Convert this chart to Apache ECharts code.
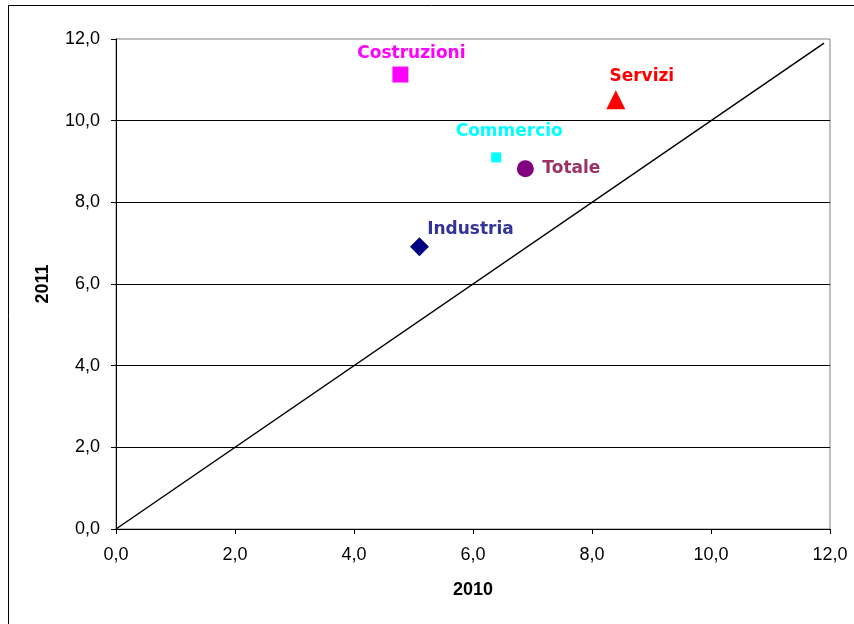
<!DOCTYPE html>
<html>
<head>
<meta charset="utf-8">
<script src="https://cdn.jsdelivr.net/npm/echarts@6/dist/echarts.min.js"></script>
<style>
  html, body { margin: 0; padding: 0; background: #fff; }
  #chart { width: 854px; height: 624px; }
</style>
</head>
<body>
<div id="chart"></div>
<script>
// Sector values: 2010 on the horizontal axis, 2011 on the vertical axis
const sectors = ['Costruzioni', 'Servizi', 'Commercio', 'Totale', 'Industria'];
const values2010 = [4.78, 8.40, 6.39, 6.88, 5.10];
const values2011 = [11.13, 10.51, 9.10, 8.82, 6.91];

// Reference diagonal (2011 = 2010)
const diagX = [0, 11.9];
const diagY = [0, 11.9];

// Axis ticks
const axisMin = 0, axisMax = 12, axisStep = 2;

// Marker appearance per sector
const sectorStyle = {
  'Costruzioni': { symbol: 'rect',     size: 16, color: '#FF00FF', text: '#FF00FF', offset: [11, -21] },
  'Servizi':     { symbol: 'triangle', size: 19, color: '#FF0000', text: '#FF0000', offset: [26, -23] },
  'Commercio':   { symbol: 'rect',     size: 10, color: '#00FFFF', text: '#00FFFF', offset: [13, -26] },
  'Totale':      { symbol: 'circle',   size: 17, color: '#800080', text: '#993366', offset: [46, 0] },
  'Industria':   { symbol: 'diamond',  size: 19, color: '#000080', text: '#333399', offset: [51, -17] }
};

const fmt = v => Number(v).toFixed(1).replace('.', ',');

const sectorSeries = sectors.map((name, i) => {
  const s = sectorStyle[name];
  return {
    type: 'scatter',
    name: name,
    symbol: s.symbol,
    symbolSize: s.size,
    itemStyle: { color: s.color, opacity: 1 },
    data: [[values2010[i], values2011[i]]],
    label: {
      show: true,
      formatter: name,
      position: 'inside',
      align: 'center',
      verticalAlign: 'middle',
      offset: s.offset,
      color: s.text,
      fontFamily: 'DejaVu Sans',
      fontWeight: 'bold',
      fontSize: 17
    },
    z: 5
  };
});

const chart = echarts.init(document.getElementById('chart'), null, { renderer: 'canvas' });
chart.setOption({
  animation: false,
  backgroundColor: '#fff',
  graphic: [{
    type: 'rect',
    shape: { x: 8.5, y: 5.5, width: 900, height: 700 },
    style: { fill: 'none', stroke: '#000', lineWidth: 1 },
    silent: true,
    z: 0
  }],
  grid: {
    left: 116, right: 24, top: 39, bottom: 95,
    show: true,
    borderColor: '#808080',
    borderWidth: 1,
    backgroundColor: '#fff'
  },
  xAxis: {
    type: 'value',
    min: axisMin, max: axisMax, interval: axisStep,
    name: '2010',
    nameLocation: 'middle',
    nameGap: 52,
    nameTextStyle: { fontFamily: 'Liberation Sans', fontWeight: 'bold', fontSize: 18, color: '#000' },
    axisLine: { show: true, onZero: false, lineStyle: { color: '#000', width: 1 } },
    axisTick: { show: true, inside: false, length: 5, lineStyle: { color: '#000' } },
    axisLabel: { margin: 17, formatter: fmt, fontFamily: 'Liberation Sans', fontSize: 18, color: '#000' },
    splitLine: { show: false }
  },
  yAxis: {
    type: 'value',
    min: axisMin, max: axisMax, interval: axisStep,
    name: '2011',
    nameLocation: 'middle',
    nameGap: 64,
    nameRotate: 90,
    nameTextStyle: { fontFamily: 'Liberation Sans', fontWeight: 'bold', fontSize: 18, color: '#000' },
    axisLine: { show: true, onZero: false, lineStyle: { color: '#000', width: 1 } },
    axisTick: { show: true, inside: false, length: 5, lineStyle: { color: '#000' } },
    axisLabel: { margin: 16, formatter: fmt, fontFamily: 'Liberation Sans', fontSize: 18, color: '#000' },
    splitLine: { show: true, showMinLine: false, showMaxLine: false, lineStyle: { color: '#000', width: 1 } }
  },
  series: [{
    type: 'line',
    name: 'diagonale',
    data: diagX.map((x, i) => [x, diagY[i]]),
    symbol: 'none',
    lineStyle: { color: '#000', width: 1.5 },
    silent: true,
    z: 3
  }].concat(sectorSeries)
});
</script>
</body>
</html>
